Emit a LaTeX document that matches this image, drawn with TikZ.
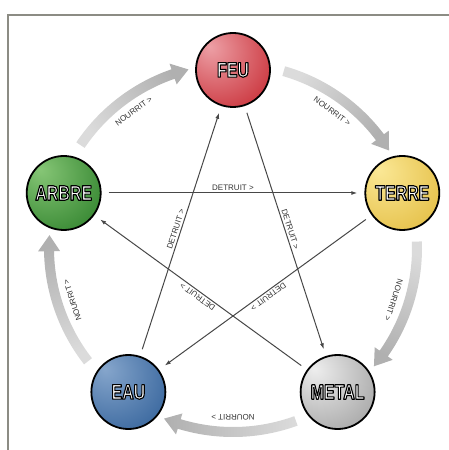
\documentclass[tikz,border=0pt]{standalone}
\usepackage{fontspec}
\setmainfont{Liberation Sans}
\newfontfamily\orbfont[FakeStretch=0.76]{Liberation Sans}
\usetikzlibrary{arrows.meta}

\definecolor{framegray}{HTML}{8C8C84}
\definecolor{linegray}{HTML}{474747}
\definecolor{labgray}{HTML}{333333}

% white letters, stroked in black
\newcommand\orbtext[1]{\special{pdf:literal direct 0 G 1.1 w 1 j 2 Tr}#1\special{pdf:literal direct 0 Tr}}

% orb shading, colours picked up at use time
\pgfdeclareradialshading[orbhi,orbmid,orblo]{orb}{\pgfpoint{-16bp}{16bp}}{%
  color(0bp)=(orbhi); color(38bp)=(orbmid); color(80bp)=(orblo)}

\begin{document}
\begin{tikzpicture}[
        x=1pt, y=1pt,
        orb/.style n args={3}{
            circle,
            draw=black,
            line width=1.8pt,
            minimum size=74pt,
            inner sep=0pt,
            outer sep=8pt,
            /utils/exec={\definecolor{orbhi}{HTML}{#1}\definecolor{orbmid}{HTML}{#2}\definecolor{orblo}{HTML}{#3}},
            shade,
            shading=orb,
            text=white,
            font=\orbfont\bfseries\fontsize{21}{21}\selectfont
        },
        destroy/.style={
            -{Latex[length=6pt,width=4pt]},
            line width=1pt,
            draw=linegray
        },
        tag/.style={
            sloped,
            allow upside down,
            above=0.5pt,
            inner sep=1.5pt,
            text=labgray,
            font=\fontsize{8}{8}\selectfont
        },
        feed/.style={
            top color=gray!28,
            bottom color=gray!62
        }
    ]

    \useasboundingbox (0,0) rectangle (449,450);

    % Frame
    \draw[framegray, line width=1.5pt] (449,435) -- (8,435) -- (8,0);

    \coordinate (centre) at (233,202);

    % Nourrit cycle (grey arrows round the circle)
    \begin{scope}[shift={(centre)}]
    \foreach \n [count=\i,
                 evaluate=\n as \ta using \n-16,
                 evaluate=\n as \tb using \n-58,
                 evaluate=\n as \tc using \n-53,
                 evaluate=\n as \tm using \n-37,
                 evaluate=\n as \tl using \n-36,
                 evaluate=\n as \rot using \n-126] in {162,90,18,-54,-126}{
        \shade[feed, shading angle=\tm]
            (\ta:189) arc[start angle=\ta, end angle=\tc, radius=189]
            -- (\tc:195) -- (\tb:184) -- (\tc:173) -- (\tc:179)
            arc[start angle=\tc, end angle=\ta, radius=179] -- cycle;
        \node[text=labgray, font=\fontsize{8}{8}\selectfont, rotate=\rot]
            (feed\i) at (\tl:169) {NOURRIT >};
    }
    \end{scope}

    % Elements
    \node[orb={EDA0A6}{CC3A42}{5E2428}]
        (feu) at ([shift={(90:178)}]centre) {\orbtext{FEU}};
    \node[orb={FBE896}{E6C24C}{86692A}]
        (terre) at ([shift={(18:178)}]centre) {\orbtext{TERRE}};
    \node[orb={EEEEEE}{ABABAB}{565656}]
        (metal) at ([shift={(-54:178)}]centre) {\orbtext{METAL}};
    \node[orb={86A6CC}{3D6AA0}{1C3563}]
        (eau) at ([shift={(-126:178)}]centre) {\orbtext{EAU}};
    \node[orb={86C676}{3A8A35}{1B501B}]
        (arbre) at ([shift={(162:178)}]centre) {\orbtext{ARBRE}};

    % Detruit star
    \draw[destroy] (arbre) -- node[tag] {DETRUIT >} (terre);
    \draw[destroy] (feu) -- node[tag] {DETRUIT >} (metal);
    \draw[destroy] (metal) -- node[tag] {DETRUIT >} (arbre);
    \draw[destroy] (terre) -- node[tag] {DETRUIT >} (eau);
    \draw[destroy] (eau) -- node[tag] {DETRUIT >} (feu);

\end{tikzpicture}
\end{document}
